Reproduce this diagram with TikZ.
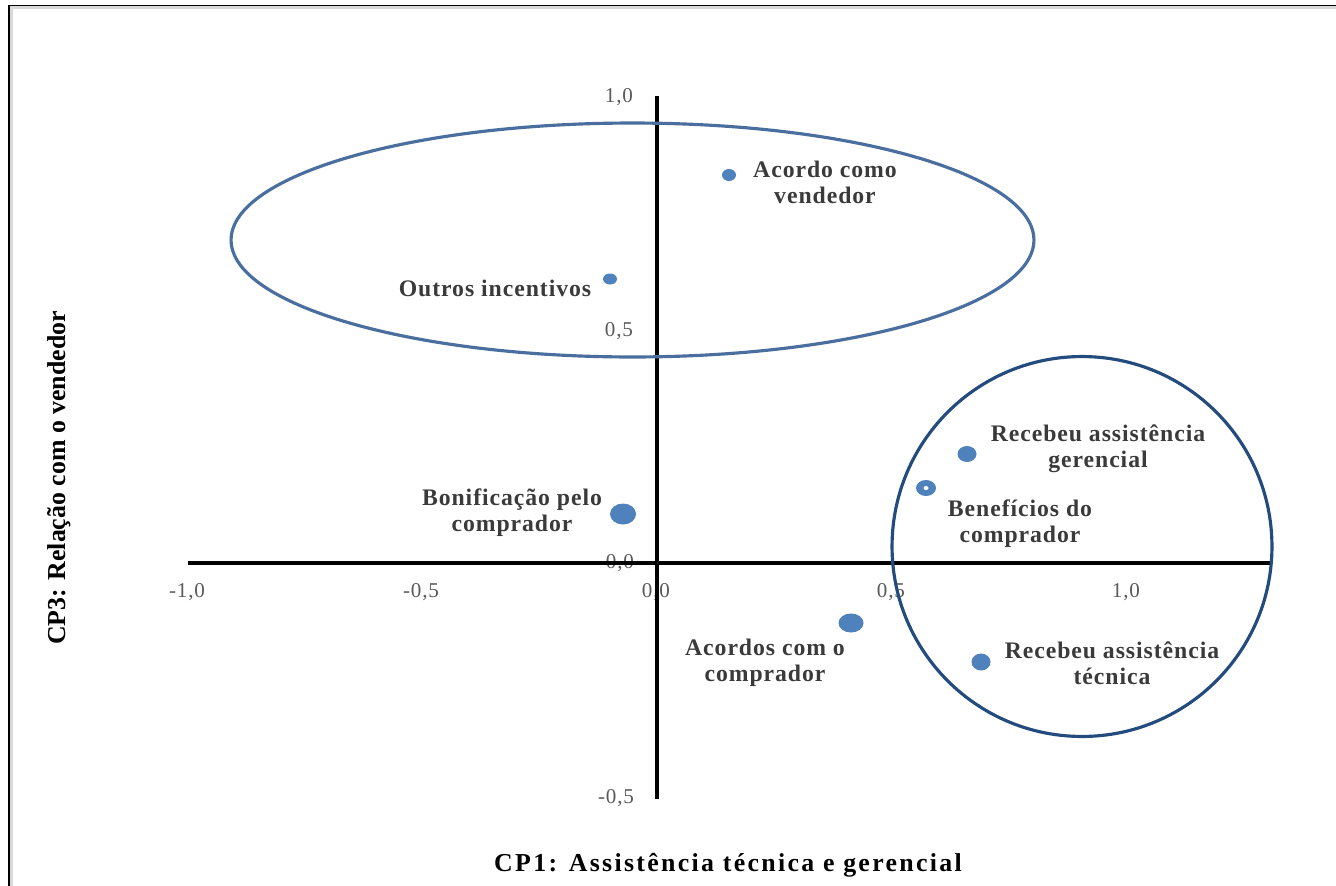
\documentclass[tikz,border=0pt]{standalone}
\usepackage{fontspec}
\setmainfont{Liberation Serif}
\newfontfamily\trackfont{Liberation Serif}[LetterSpace=4]
\newfontfamily\widefont{Liberation Serif}[LetterSpace=9]
\usetikzlibrary{shapes.geometric}
\definecolor{ptblue}{HTML}{4F81BD}
\definecolor{ringblue}{HTML}{4A6F9E}
\definecolor{circblue}{HTML}{234B7E}
\definecolor{lblgray}{HTML}{3A3A3A}
\definecolor{tickgray}{HTML}{5A5A5A}
\definecolor{framegray}{HTML}{D9D9D9}
\begin{document}
\begin{tikzpicture}[x=0.02cm, y=-0.02cm,
  axis/.style={line width=2.3pt, black},
  tick/.style={font=\trackfont\fontsize{12}{13}\selectfont, text=tickgray, inner sep=0pt},
  lbl/.style={font=\trackfont\bfseries\fontsize{13.5}{14.7}\selectfont, text=lblgray, align=center, inner sep=0pt},
  axtitle/.style={font=\bfseries\fontsize{14.7}{17}\selectfont, text=black, inner sep=0pt},
  pt/.style={ellipse, fill=ptblue, inner sep=0pt},
  group/.style={ellipse, draw, inner sep=0pt, line width=1.8pt}]
\useasboundingbox (0,0) rectangle (1336,886);

% frame
\draw[framegray, line width=1.6pt] (11.7,886) -- (11.7,7.5) -- (1336,7.5);
\draw[black, line width=1pt] (8.8,886) -- (8.8,5.6) -- (1336,5.6);

% tick labels
\node[tick] (tx1) at (187,592) {-1,0};
\node[tick] (tx2) at (421,592) {-0,5};
\node[tick] (tx3) at (656,592) {0,0};
\node[tick] (tx4) at (891,592) {0,5};
\node[tick] (tx5) at (1126,592) {1,0};
\node[tick] (ty1) at (619,97) {1,0};
\node[tick] (ty2) at (619,331) {0,5};
\node[tick] (ty3) at (620,563) {0,0};
\node[tick] (ty4) at (616,798) {-0,5};

% axes
\coordinate (xl) at (188,563);
\coordinate (xr) at (1270,563);
\coordinate (yt) at (657,96);
\coordinate (yb) at (657,799);
\draw[axis] (xl) -- (xr);
\draw[axis] (yt) -- (yb);

% groups
\node[group, draw=ringblue, minimum width=16.06cm, minimum height=4.68cm] (g1) at (632.5,240) {};
\node[group, circle, draw=circblue, minimum size=7.6cm] (g2) at (1082,546.5) {};

% points
\node[pt, minimum width=0.28cm, minimum height=0.24cm] (p1) at (729,175) {};
\node[pt, minimum width=0.28cm, minimum height=0.22cm] (p2) at (610,279) {};
\node[pt, minimum width=0.52cm, minimum height=0.42cm] (p3) at (623,514) {};
\node[pt, minimum width=0.38cm, minimum height=0.32cm] (p4) at (967,454) {};
\node[pt, minimum width=0.40cm, minimum height=0.32cm] (p5) at (926,488) {};
\node[ellipse, fill=white, inner sep=0pt, minimum width=0.1cm, minimum height=0.08cm] (p5c) at (p5) {};
\node[pt, minimum width=0.50cm, minimum height=0.38cm] (p6) at (851,623) {};
\node[pt, minimum width=0.38cm, minimum height=0.34cm] (p7) at (981,662) {};

% point labels
\node[lbl] (l1) at (825,182) {Acordo como\\vendedor};
\node[lbl] (l2) at (495,288) {Outros incentivos};
\node[lbl] (l3) at (512,513) {Bonificação pelo\\comprador};
\node[lbl] (l4) at (1098,449) {Recebeu assistência\\gerencial};
\node[lbl] (l5) at (1020,524) {Benefícios do\\comprador};
\node[lbl] (l6) at (765,663) {Acordos com o\\comprador};
\node[lbl] (l7) at (1112,663) {Recebeu assistência\\técnica};

% axis titles
\node[axtitle, font=\widefont\bfseries\fontsize{14.7}{17}\selectfont] (xt) at (728,865) {CP1: Assistência técnica e gerencial};
\node[axtitle, rotate=90] (yt2) at (59,478) {CP3: Relação com o vendedor};
\end{tikzpicture}
\end{document}
